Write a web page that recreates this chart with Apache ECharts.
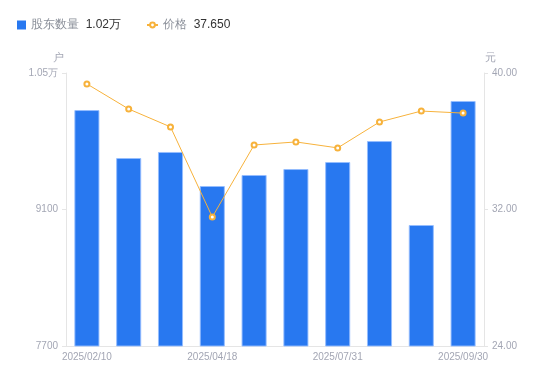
<!DOCTYPE html>
<html><head><meta charset="utf-8">
<script src="https://cdn.jsdelivr.net/npm/echarts@6/dist/echarts.min.js"></script>
<style>html,body{margin:0;padding:0;background:#fff}#c{width:550px;height:381px}</style>
</head><body><div id="c"></div>
<script>
const categories = ['2025/02/10','2025/02/28','2025/03/31','2025/04/18','2025/04/30','2025/06/30','2025/07/31','2025/08/31','2025/09/19','2025/09/30'];
const holders = [10120, 9628, 9690, 9341, 9454, 9515, 9587, 9802, 8941, 10213];
const prices = [39.36, 37.89, 36.84, 31.56, 35.78, 35.96, 35.61, 37.13, 37.77, 37.65];
const leftTicks = [7700, 9100, 10500];
const rightTicks = [24, 32, 40];

const chart = echarts.init(document.getElementById('c'));
const font = 'sans-serif';
const legendText = { rich: { a: {color:'#8a8f99', fontSize:12, fontFamily:font}, b: {color:'#333', fontSize:12, fontFamily:font} } };
chart.setOption({
  animation: false,
  legend: [{
    left: 12, top: 14, itemWidth: 9, itemHeight: 9,
    data: [{name:'股东数量', icon:'rect', itemStyle: {borderWidth: 0}}],
    formatter: n => '{a|' + n + '}  {b|1.02万}',
    textStyle: legendText
  }, {
    left: 141, top: 14, itemWidth: 11, itemHeight: 6,
    data: [{name:'价格'}],
    formatter: n => '{a|' + n + '}  {b|37.650}',
    textStyle: legendText
  }],
  grid: { left: 66, right: 66, top: 73, bottom: 35 },
  xAxis: {
    type: 'category', data: categories,
    axisLine: { lineStyle: { color: '#e5e5e5' } },
    axisTick: { show: false },
    axisLabel: { color: '#a3a6b4', fontSize: 10, interval: 2, margin: 6, fontFamily: font }
  },
  yAxis: [{
    type: 'value', name: '户', min: leftTicks[0], max: leftTicks[2], interval: 1400,
    nameTextStyle: { color: '#a3a6b4', fontSize: 11, padding: [0, 16, 0, 0] },
    nameGap: 10,
    axisLine: { show: true, lineStyle: { color: '#e5e5e5' } },
    axisTick: { show: true, length: 4, lineStyle: { color: '#e5e5e5' } },
    splitLine: { show: false },
    axisLabel: { color: '#a3a6b4', fontSize: 10, margin: 8, fontFamily: font,
      formatter: v => v >= 10000 ? (v/10000).toFixed(2) + '万' : String(v) }
  }, {
    type: 'value', name: '元', min: rightTicks[0], max: rightTicks[2], interval: 8,
    nameTextStyle: { color: '#a3a6b4', fontSize: 11, padding: [0, 0, 0, 12] },
    nameGap: 10,
    axisLine: { show: true, lineStyle: { color: '#e5e5e5' } },
    axisTick: { show: true, length: 4, lineStyle: { color: '#e5e5e5' } },
    splitLine: { show: false },
    axisLabel: { color: '#a3a6b4', fontSize: 10, margin: 8, fontFamily: font,
      formatter: v => v.toFixed(2) }
  }],
  series: [{
    name: '股东数量', type: 'bar', data: holders, barWidth: '60%',
    itemStyle: { color: '#2878f0', borderColor: 'rgba(150,190,255,0.9)', borderWidth: 1 }
  }, {
    name: '价格', type: 'line', yAxisIndex: 1, data: prices,
    symbol: 'emptyCircle', symbolSize: 5,
    lineStyle: { color: '#f7b23b', width: 1 },
    itemStyle: { color: '#f7b23b', borderWidth: 1.5 }
  }]
});
</script></body></html>
